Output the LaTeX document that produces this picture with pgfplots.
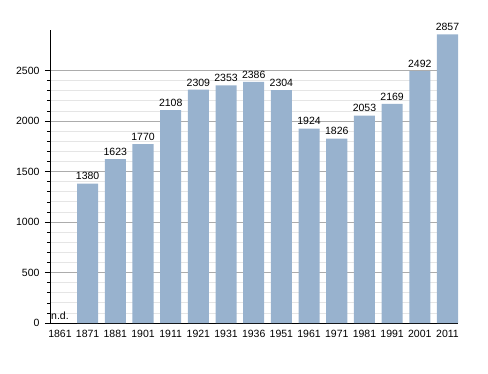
\documentclass[border=0pt]{standalone}
\usepackage{fontspec}
\setmainfont{Liberation Sans}
\usepackage{pgfplots}
\pgfplotsset{compat=1.18}
\definecolor{barc}{RGB}{152,178,206}
\begin{document}
\begin{tikzpicture}[x=1pt,y=1pt]
\path[use as bounding box] (-50,-50) rectangle (438,323);
\begin{axis}[
  at={(0,0)}, anchor=south west,
  scale only axis, width=408pt, height=293pt,
  xmin=-0.36, xmax=14.38, ymin=0, ymax=2900,
  axis x line*=bottom, axis y line*=left,
  xtick={0,...,14},
  xticklabels={1861,1871,1881,1901,1911,1921,1931,1936,1951,1961,1971,1981,1991,2001,2011},
  major x tick style={draw=none},
  ytick={0,500,...,2500},
  minor y tick num=4,
  ymajorgrids, yminorgrids,
  major grid style={gray!65, line width=0.6pt},
  minor grid style={gray!20, line width=0.6pt},
  tick align=outside,
  major tick length=5pt, minor tick length=3pt,
  tick style={black, line width=0.5pt},
  axis line style={black, line width=0.7pt},
  every tick label/.append style={font=\fontsize{10.5}{12}\selectfont},
  /pgf/number format/assume math mode=true,
  /pgf/number format/1000 sep={},
  yticklabel style={xshift=-2pt},
  xticklabel style={yshift=1pt},
  ybar, bar width=0.76,
  nodes near coords,
  every node near coord/.append style={font=\fontsize{10.5}{12}\selectfont, black},
  clip=false,
]
\addplot[fill=barc, draw=none] coordinates {
(1,1380) (2,1623) (3,1770) (4,2108) (5,2309) (6,2353) (7,2386) (8,2304)
(9,1924) (10,1826) (11,2053) (12,2169) (13,2492) (14,2857)
};
\node[anchor=south, font=\fontsize{10.5}{12}\selectfont, inner sep=1pt] at (axis cs:0,20) {n.d.};
\end{axis}
\end{tikzpicture}
\end{document}
